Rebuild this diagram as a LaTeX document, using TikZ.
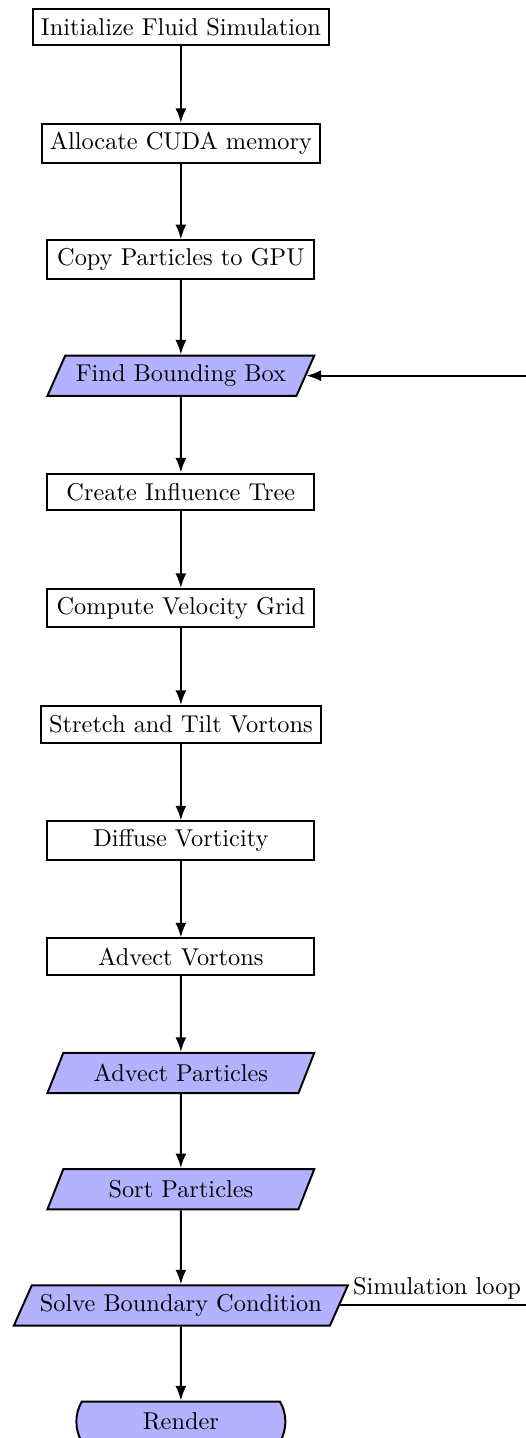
\documentclass[tikz,border=0pt]{standalone}
\usepackage{amsmath,amssymb,color}
\usetikzlibrary{shapes.geometric,shapes.misc,positioning,arrows.meta}

\tikzset{
  process/.style={rectangle, draw, thick, minimum width=3.85cm,
    minimum height=0.53cm},
  gpustep/.style={trapezium, trapezium left angle=65,
    trapezium right angle=115, trapezium stretches body, draw, thick,
    fill=blue!30, minimum width=3.85cm, minimum height=0.58cm},
  finish/.style={rounded rectangle, rounded rectangle arc length=60,
    draw, thick, fill=blue!30, minimum width=3.25cm, minimum height=0.58cm},
  flow/.style={-{Latex[length=6pt,width=4.5pt]}, thick}
}

\begin{document}
\begin{tikzpicture}[node distance=1.677cm, on grid]
      \useasboundingbox (-2.61,0.39) rectangle (4.97,-20.36);
      \node [process] (init) at (0,0) {Initialize Fluid Simulation};
      \node [process, below=of init] (alloc) {Allocate CUDA memory};
      \node [process, below=of alloc] (copy) {Copy Particles to GPU};
      \node [gpustep, below=of copy] (bbox) {Find Bounding Box};
      \node [process, below=of bbox] (tree) {Create Influence Tree};
      \node [process, below=of tree] (grid) {Compute Velocity Grid};
      \node [process, below=of grid] (stretch) {Stretch and Tilt Vortons};
      \node [process, below=of stretch] (diffuse) {Diffuse Vorticity};
      \node [process, below=of diffuse] (advv) {Advect Vortons};
      \node [gpustep, below=of advv] (advp) {Advect Particles};
      \node [gpustep, below=of advp] (sort) {Sort Particles};
      \node [gpustep, below=of sort] (solve) {Solve Boundary Condition};
      \node [finish, below=of solve] (render) {Render};
      \coordinate (loopx) at (5.3,0);
      \draw [flow] (init) -- (alloc); \draw [flow] (alloc) -- (copy);
      \draw [flow] (copy) -- (bbox); \draw [flow] (bbox) -- (tree);
      \draw [flow] (tree) -- (grid); \draw [flow] (grid) -- (stretch);
      \draw [flow] (stretch) -- (diffuse); \draw [flow] (diffuse) --
      (advv); \draw [flow] (advv) -- (advp); \draw [flow] (advp) --
      (sort); \draw [flow] (sort) -- (solve); \draw [flow] (solve) --
      (render);
      \draw [flow] (solve.east) node [above right, inner sep=2pt,
        xshift=3pt] {Simulation loop} -- (solve.east -| loopx) |-
      (bbox.east);
    \end{tikzpicture}
\end{document}
